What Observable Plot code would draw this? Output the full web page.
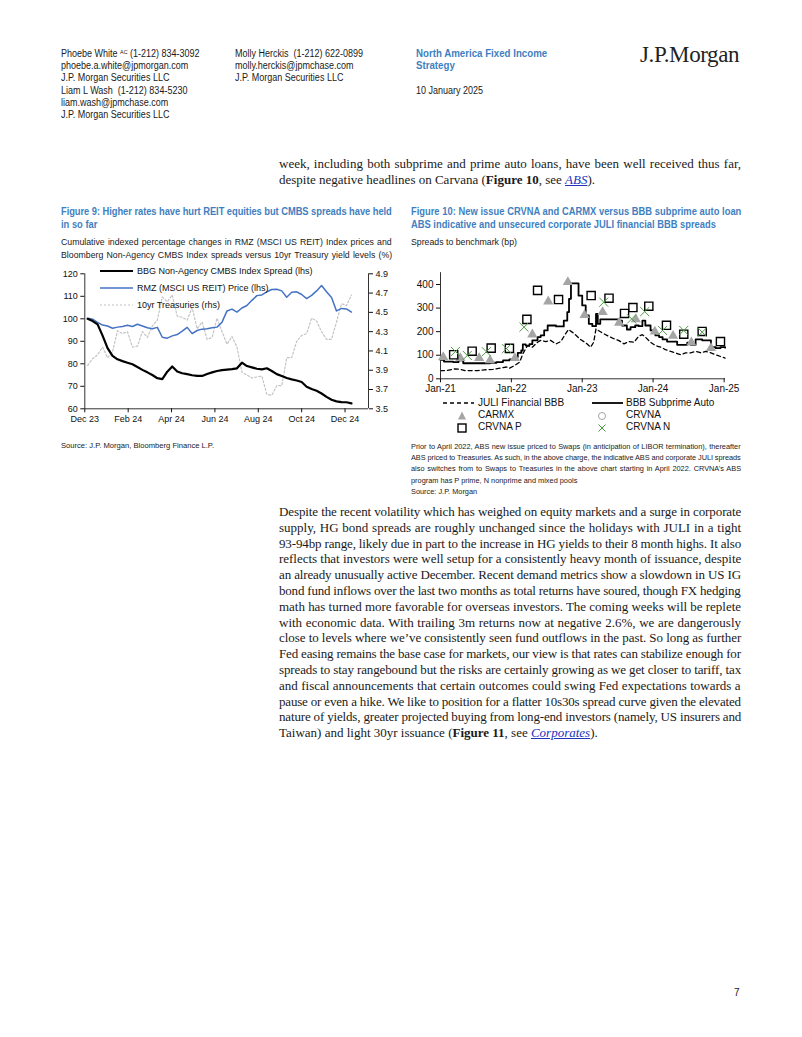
<!DOCTYPE html>
<html><head><meta charset="utf-8">
<script src="https://cdn.jsdelivr.net/npm/d3@7"></script>
<script src="https://cdn.jsdelivr.net/npm/@observablehq/plot@0.6"></script>
<style>
body{margin:0;background:#fff;}
#page{position:relative;width:802px;height:1037px;overflow:hidden;background:#fff;color:#1a1a1a;}
.a{position:absolute;white-space:nowrap;transform-origin:0 0;}
.sans{font-family:"Liberation Sans",Arial,sans-serif;}
.hdr{font-size:10px;line-height:12px;}
.blue{color:#3f7fc1;}
.serif{font-family:"Liberation Serif","Times New Roman",serif;font-size:13px;line-height:16px;}
.lnk{color:#2233bb;font-style:italic;text-decoration:underline;}
svg{overflow:visible;}
</style></head>
<body><div id="page"></div>
<script>
// ---------- Figure 9 data (weekly readings) ----------
const fig9Dates = ["2024-01-02","2024-01-09","2024-01-16","2024-01-23","2024-01-30","2024-02-06","2024-02-13","2024-02-20","2024-02-27","2024-03-05","2024-03-12","2024-03-19","2024-03-26","2024-04-02","2024-04-09","2024-04-16","2024-04-23","2024-04-30","2024-05-07","2024-05-14","2024-05-21","2024-05-28","2024-06-04","2024-06-11","2024-06-18","2024-06-25","2024-07-02","2024-07-09","2024-07-16","2024-07-23","2024-07-30","2024-08-06","2024-08-13","2024-08-20","2024-08-27","2024-09-03","2024-09-10","2024-09-17","2024-09-24","2024-10-01","2024-10-08","2024-10-15","2024-10-22","2024-10-29","2024-11-05","2024-11-12","2024-11-19","2024-11-26","2024-12-03","2024-12-10","2024-12-17","2024-12-24","2024-12-31","2025-01-07"];
const cmbsSpread = [100,99,97.5,92.5,87,83.5,82,81.2,80.5,79.8,78.6,77.3,76.2,75,73.6,73.2,76.5,78.8,76.6,75.8,75.4,74.9,74.6,74.6,75.5,76.2,76.8,77.2,77.4,77.6,78,80.5,79,78.4,77.8,77.5,78,76.8,75.4,74.6,73.7,73.1,72.6,71.9,69.8,68.8,68,66.8,65.3,64,63.3,63,62.9,62.4];
const rmzPrice = [100.2,99.8,98.4,97.2,96.8,95.8,96.3,96.6,97.1,96.6,97.6,96.8,96,95.6,96.2,91.8,91.4,92.4,93,94.5,96.2,93.4,94.8,95.4,95.6,96,96.3,98.5,103.5,104.3,103,104.8,105.9,108.2,110.3,110.6,112,113,113.1,112.4,109.6,111.8,112,110.8,109,110.4,112.4,114.8,112,109.5,103.5,104.6,104.4,103];
const ust10y = [3.95,4.02,4.06,4.14,4.03,4.09,4.31,4.28,4.30,4.14,4.15,4.30,4.24,4.36,4.42,4.66,4.61,4.68,4.46,4.45,4.42,4.55,4.33,4.40,4.22,4.24,4.44,4.30,4.17,4.25,4.14,3.88,3.85,3.82,3.83,3.84,3.65,3.64,3.74,3.74,4.03,4.03,4.20,4.26,4.28,4.44,4.41,4.30,4.22,4.22,4.40,4.59,4.57,4.68];
const fig9TickDates = ["2023-12-29","2024-02-28","2024-04-29","2024-06-29","2024-08-29","2024-10-29","2024-12-29"];
const fig9TickLabels = ["Dec 23","Feb 24","Apr 24","Jun 24","Aug 24","Oct 24","Dec 24"];
const fig9LeftTicks = [60,70,80,90,100,110,120];
const fig9RightTicks = [3.5,3.7,3.9,4.1,4.3,4.5,4.7,4.9];
const fig9Series = ["BBG Non-Agency CMBS Index Spread (lhs)","RMZ (MSCI US REIT) Price (lhs)","10yr Treasuries (rhs)"];

// ---------- Figure 10 data ----------
const subprimeDates = ["2021-01-01","2021-01-19","2021-03-07","2021-04-04","2021-04-28","2021-06-01","2021-07-04","2021-08-10","2021-09-13","2021-10-16","2021-11-19","2021-12-22","2022-01-19","2022-02-03","2022-02-21","2022-03-01","2022-03-16","2022-04-04","2022-04-19","2022-05-16","2022-06-01","2022-06-19","2022-07-07","2022-07-22","2022-08-19","2022-09-13","2022-09-28","2022-10-16","2022-10-25","2022-11-04","2022-11-28","2022-12-13","2023-01-01","2023-01-19","2023-02-04","2023-02-22","2023-03-07","2023-03-13","2023-03-22","2023-04-04","2023-05-07","2023-06-13","2023-07-07","2023-07-25","2023-08-19","2023-09-07","2023-10-01","2023-10-19","2023-11-07","2023-11-22","2023-12-19","2024-01-13","2024-02-01","2024-02-19","2024-03-13","2024-04-10","2024-05-04","2024-05-28","2024-06-25","2024-07-13","2024-08-07","2024-09-10","2024-10-07","2024-10-25","2024-11-19","2024-12-13","2025-01-06"];
const subprimeBBB = [80,73,71,78,66,66,66,66,68,71,78,82,92,110,120,146,141,147,163,177,184,205,226,226,222,222,247,283,339,405,405,353,311,269,233,223,223,275,233,252,252,252,247,226,209,219,226,223,247,226,205,184,177,167,158,158,144,144,153,144,167,163,163,134,130,134,132];
const juliDates = ["2021-01-01","2021-02-04","2021-03-01","2021-03-16","2021-04-13","2021-05-07","2021-06-10","2021-07-13","2021-08-16","2021-09-28","2021-11-04","2021-12-07","2021-12-22","2022-01-19","2022-02-13","2022-03-01","2022-03-25","2022-04-19","2022-05-16","2022-06-01","2022-06-28","2022-07-22","2022-08-19","2022-09-13","2022-10-07","2022-10-22","2022-11-10","2022-12-01","2022-12-22","2023-01-19","2023-02-13","2023-03-01","2023-03-13","2023-03-25","2023-04-22","2023-05-16","2023-06-13","2023-07-07","2023-08-04","2023-08-28","2023-09-25","2023-10-19","2023-11-07","2023-11-22","2023-12-19","2024-01-13","2024-02-10","2024-03-04","2024-04-01","2024-04-25","2024-05-22","2024-06-16","2024-07-13","2024-08-07","2024-09-04","2024-09-28","2024-10-25","2024-11-28","2024-12-22","2025-01-06"];
const juliBBB = [35,35,40,42,40,35,35,35,38,40,45,50,45,57,71,106,141,134,155,163,158,163,148,158,191,209,198,184,167,153,134,155,212,205,191,181,170,163,148,158,155,181,187,177,155,141,134,124,116,110,102,110,110,116,110,116,110,99,92,88];
const carmxDates = ["2021-01-15","2021-04-13","2021-07-19","2021-09-13","2022-01-19","2022-04-19","2022-07-10","2022-10-19","2023-01-13","2023-04-16","2023-07-10","2023-10-04","2024-01-10","2024-04-13","2024-07-16","2024-10-25"];
const carmxSpread = [92,88,88,78,88,188,328,410,270,283,238,252,200,182,154,130];
const crvnaPDates = ["2021-03-10","2021-06-13","2021-09-19","2021-12-22","2022-03-22","2022-05-16","2022-09-01","2023-02-16","2023-05-19","2023-08-07","2023-09-19","2023-12-10","2024-03-10","2024-06-07","2024-09-10","2024-12-13"];
const crvnaPSpread = [102,117,130,129,252,375,336,353,342,277,302,308,227,189,201,158];
const crvnaNDates = ["2021-03-19","2021-05-19","2021-08-25","2021-12-07","2022-03-07","2023-04-22","2023-09-13","2023-11-19","2024-02-19","2024-06-07","2024-09-10"];
const crvnaNSpread = [116,99,115,128,219,325,254,285,205,205,198];
const crvnaDates = [];
const crvnaSpread = [];
const fig10YearTicks = ["2021-01-01","2022-01-01","2023-01-01","2024-01-01","2025-01-01"];
const fig10YTicks = [0,100,200,300,400];

// ---------- helpers ----------
const page = document.getElementById("page");
// put text; opts: scale (horizontal condense), justify (target on-page width)
function put(html, x, y, cls, style, opts) {
  opts = opts || {};
  const s = opts.scale || 1;
  const d = document.createElement("div");
  d.className = "a " + (cls || "");
  d.style.left = x + "px"; d.style.top = y + "px";
  if (style) d.style.cssText += style;
  if (s !== 1) d.style.transform = "scaleX(" + s + ")";
  d.innerHTML = html;
  page.appendChild(d);
  if (opts.justify) {
    const natural = d.offsetWidth;
    const extra = opts.justify / s - natural;
    const spaces = (d.textContent.match(/ /g) || []).length;
    if (extra >= 0) {
      if (spaces) d.style.wordSpacing = (extra / spaces) + "px";
    } else {
      // too long: tighten letters slightly rather than squeezing spaces
      const chars = d.textContent.length;
      d.style.letterSpacing = (extra / chars) + "px";
    }
  }
  return d;
}
const parse = d3.utcParse("%Y-%m-%d");
const NAR = 0.89;

// ---------- header ----------
const h1 = ["Phoebe White <span style='font-size:6px;position:relative;top:-3px'>AC</span> (1-212) 834-3092","phoebe.a.white@jpmorgan.com","J.P. Morgan Securities LLC"];
const h2 = ["Liam L Wash&nbsp; (1-212) 834-5230","liam.wash@jpmchase.com","J.P. Morgan Securities LLC"];
const h3 = ["Molly Herckis&nbsp; (1-212) 622-0899","molly.herckis@jpmchase.com","J.P. Morgan Securities LLC"];
h1.forEach((t,i)=>put(t,61,48+12*i,"sans hdr","",{scale:0.9}));
h2.forEach((t,i)=>put(t,61,85+12*i,"sans hdr","",{scale:0.9}));
h3.forEach((t,i)=>put(t,235,48+12*i,"sans hdr","",{scale:0.9}));
put("North America Fixed Income",416,48,"sans hdr blue","font-weight:bold",{scale:0.97});
put("Strategy",416,60,"sans hdr blue","font-weight:bold",{scale:0.97});
put("10 January 2025",416,85,"sans hdr","",{scale:0.9});
put("J.P.Morgan",640,41,"","font-family:'Liberation Serif',serif;font-size:23px;line-height:28px;color:#222;letter-spacing:-0.4px");

// ---------- body text ----------
const bodyW = 462;
put("week, including both subprime and prime auto loans, have been well received thus far,",279,156,"serif","",{justify:bodyW});
put("despite negative headlines on Carvana (<b>Figure 10</b>, see <span class='lnk'>ABS</span>).",279,172,"serif");
const para = [
"Despite the recent volatility which has weighed on equity markets and a surge in corporate",
"supply, HG bond spreads are roughly unchanged since the holidays with JULI in a tight",
"93-94bp range, likely due in part to the increase in HG yields to their 8 month highs. It also",
"reflects that investors were well setup for a consistently heavy month of issuance, despite",
"an already unusually active December. Recent demand metrics show a slowdown in US IG",
"bond fund inflows over the last two months as total returns have soured, though FX hedging",
"math has turned more favorable for overseas investors. The coming weeks will be replete",
"with economic data. With trailing 3m returns now at negative 2.6%, we are dangerously",
"close to levels where we\u2019ve consistently seen fund outflows in the past. So long as further",
"Fed easing remains the base case for markets, our view is that rates can stabilize enough for",
"spreads to stay rangebound but the risks are certainly growing as we get closer to tariff, tax",
"and fiscal announcements that certain outcomes could swing Fed expectations towards a",
"pause or even a hike. We like to position for a flatter 10s30s spread curve given the elevated",
"nature of yields, greater projected buying from long-end investors (namely, US insurers and"];
para.forEach((t,i)=>put(t,279,504+15.8*i,"serif","",{justify:bodyW}));
put("Taiwan) and light 30yr issuance (<b>Figure 11</b>, see <span class='lnk'>Corporates</span>).",279,504+15.8*14,"serif");
put("7",734,987,"sans","font-size:10px;line-height:12px");

// ---------- Figure 9 texts ----------
const tStyle = "font-weight:bold;font-size:10.5px;line-height:13px";
put("Figure 9: Higher rates have hurt REIT equities but CMBS spreads have held",61,204.5,"sans blue",tStyle,{scale:NAR,justify:331});
put("in so far",61,217.5,"sans blue",tStyle,{scale:NAR});
put("Cumulative indexed percentage changes in RMZ (MSCI US REIT) Index prices and",61,234.5,"sans","font-size:9.5px;line-height:13px",{scale:0.92,justify:331});
put("Bloomberg Non-Agency CMBS Index spreads versus 10yr Treasury yield levels (%)",61,247.5,"sans","font-size:9.5px;line-height:13px",{scale:0.92,justify:331});
put("Source: J.P. Morgan, Bloomberg Finance L.P.",61,441,"sans","font-size:8px;line-height:10px",{scale:0.95});

// ---------- Figure 9 chart ----------
const toL = r => 60 + (r - 3.5) * 60 / 1.4;
const fromL = v => (v - 60) * 1.4 / 60 + 3.5;
const d9 = fig9Dates.map((d,i)=>({date:parse(d), cmbs:cmbsSpread[i], rmz:rmzPrice[i], ust:toL(ust10y[i])}));
const x9 = [parse("2023-12-29"), parse("2025-01-31")];
const lab9 = new Map(fig9TickDates.map((d,i)=>[+parse(d), fig9TickLabels[i]]));
const chart9 = Plot.plot({
  width:345, height:170, marginLeft:29.3, marginRight:32, marginTop:11.3, marginBottom:23.7,
  style:{fontFamily:"'Liberation Sans',Arial,sans-serif", fontSize:"9px", color:"#111", background:"transparent", overflow:"visible"},
  x:{type:"utc", domain:x9},
  y:{domain:[60,120]},
  marks:[
    Plot.line(d9,{x:"date",y:"ust",stroke:"#c4c4c4",strokeWidth:1.2,strokeDasharray:"2,2"}),
    Plot.line(d9,{x:"date",y:"rmz",stroke:"#4472c4",strokeWidth:1.5}),
    Plot.line(d9,{x:"date",y:"cmbs",stroke:"#000",strokeWidth:2.2}),
    Plot.ruleX([x9[0], x9[1]],{stroke:"#333",strokeWidth:1}),
    Plot.ruleY([60],{stroke:"#333",strokeWidth:1}),
    Plot.axisX({ticks:fig9TickDates.map(parse), tickFormat:d=>lab9.get(+d), tickSize:4, tickPadding:3, label:null}),
    Plot.axisY({anchor:"left", ticks:fig9LeftTicks, tickSize:4, tickPadding:3, label:null}),
    Plot.axisY({anchor:"right", ticks:fig9RightTicks.map(toL), tickFormat:v=>fromL(v).toFixed(1), tickSize:4, tickPadding:3, label:null})
  ]
});
chart9.style.position="absolute"; chart9.style.left="55px"; chart9.style.top="262px";
page.appendChild(chart9);

// Figure 9 legend (inside plot)
const leg9 = [{c:"#000",w:2.2,dash:null},{c:"#4472c4",w:1.5,dash:null},{c:"#c4c4c4",w:1.2,dash:"2,2"}];
leg9.forEach((s,i)=>{
  const y = 270.7 + 17.3*i;
  put(`<svg width="34" height="6"><line x1="0" y1="3" x2="33" y2="3" stroke="${s.c}" stroke-width="${s.w}" ${s.dash?`stroke-dasharray="${s.dash}"`:""}/></svg>`,100,y-3,"","line-height:0");
  put(fig9Series[i],137,y-6,"sans","font-size:9px;line-height:12px;color:#111");
});

// ---------- Figure 10 texts ----------
put("Figure 10: New issue CRVNA and CARMX versus BBB subprime auto loan",411,204.5,"sans blue",tStyle,{scale:NAR,justify:330});
put("ABS indicative and unsecured corporate JULI financial BBB spreads",411,217.5,"sans blue",tStyle,{scale:NAR});
put("Spreads to benchmark (bp)",411,234.5,"sans","font-size:9.5px;line-height:13px",{scale:0.92});
const cap = [
"Prior to April 2022, ABS new issue priced to Swaps (in anticipation of LIBOR termination), thereafter",
"ABS priced to Treasuries. As such, in the above charge, the indicative ABS and corporate JULI spreads",
"also switches from to Swaps to Treasuries in the above chart starting in April 2022. CRVNA\u2019s ABS"];
cap.forEach((t,i)=>put(t,411,440.5+11.4*i,"sans","font-size:8px;line-height:11px",{scale:0.92,justify:330}));
put("program has P prime, N nonprime and mixed pools",411,440.5+11.4*3,"sans","font-size:8px;line-height:11px",{scale:0.92});
put("Source: J.P. Morgan",411,440.5+11.4*4,"sans","font-size:8px;line-height:11px",{scale:0.92});

// ---------- Figure 10 chart ----------
const pts = (ds,vs)=>ds.map((d,i)=>({date:parse(d), v:vs[i]}));
const subprime = pts(subprimeDates, subprimeBBB);
const juli = pts(juliDates, juliBBB);
const carmx = pts(carmxDates, carmxSpread);
const crvnaP = pts(crvnaPDates, crvnaPSpread);
const crvnaN = pts(crvnaNDates, crvnaNSpread);
const crvna = pts(crvnaDates, crvnaSpread);
const x10 = [parse("2021-01-01"), parse("2025-01-08")];
const chart10 = Plot.plot({
  width:345, height:136, marginLeft:35, marginRight:25, marginTop:10.2, marginBottom:19.7,
  style:{fontFamily:"'Liberation Sans',Arial,sans-serif", fontSize:"10px", color:"#111", background:"transparent", overflow:"visible"},
  x:{type:"utc", domain:x10},
  y:{domain:[0,450]},
  marks:[
    Plot.line(juli,{x:"date",y:"v",stroke:"#000",strokeWidth:1.3,strokeDasharray:"4,3"}),
    Plot.line(subprime,{x:"date",y:"v",stroke:"#000",strokeWidth:1.8,curve:"step-after"}),
    Plot.ruleX([x10[0]],{stroke:"#333"}),
    Plot.ruleY([0],{stroke:"#333"}),
    Plot.dot(carmx,{x:"date",y:"v",symbol:"triangle",fill:"#a5a5a5",r:3.8}),
    Plot.dot(crvna,{x:"date",y:"v",symbol:"circle",stroke:"#a5a5a5",fill:"none",r:3.5}),
    Plot.dot(crvnaP,{x:"date",y:"v",symbol:"square",stroke:"#000",fill:"none",strokeWidth:1.4,r:4.6}),
    Plot.dot(crvnaN,{x:"date",y:"v",symbol:"times",stroke:"#4f9a45",strokeWidth:1,r:4.2}),
    Plot.axisX({ticks:fig10YearTicks.map(parse), tickFormat:d3.utcFormat("%b-%y"), tickSize:4, tickPadding:2, label:null}),
    Plot.axisY({ticks:fig10YTicks, tickSize:4, tickPadding:3, label:null})
  ]
});
chart10.style.position="absolute"; chart10.style.left="405px"; chart10.style.top="262px";
page.appendChild(chart10);

// Figure 10 legend
const legItem = (sw, x, y, text, tx) => {
  put(sw, x, y-6, "", "line-height:0");
  put(text, tx, y-6.5, "sans", "font-size:10px;line-height:12px;color:#111");
};
legItem(`<svg width="32" height="12"><line x1="0" y1="6" x2="31" y2="6" stroke="#000" stroke-width="1.3" stroke-dasharray="4,3"/></svg>`,443,403,"JULI Financial BBB",478);
legItem(`<svg width="32" height="12"><line x1="0" y1="6" x2="31" y2="6" stroke="#000" stroke-width="1.8"/></svg>`,592,403,"BBB Subprime Auto",626);
legItem(`<svg width="12" height="12"><path d="M6,1.5L10,9.5L2,9.5Z" fill="#a5a5a5"/></svg>`,456,415.5,"CARMX",478);
legItem(`<svg width="12" height="12"><circle cx="6" cy="6" r="3.5" fill="none" stroke="#a5a5a5"/></svg>`,596,415.5,"CRVNA",626);
legItem(`<svg width="12" height="12"><rect x="2" y="2" width="8" height="8" fill="none" stroke="#000" stroke-width="1.4"/></svg>`,456,427.5,"CRVNA P",478);
legItem(`<svg width="12" height="12"><path d="M2.5,2.5L9.5,9.5M9.5,2.5L2.5,9.5" stroke="#4f9a45" stroke-width="1"/></svg>`,596,427.5,"CRVNA N",626);
</script>
</body></html>
